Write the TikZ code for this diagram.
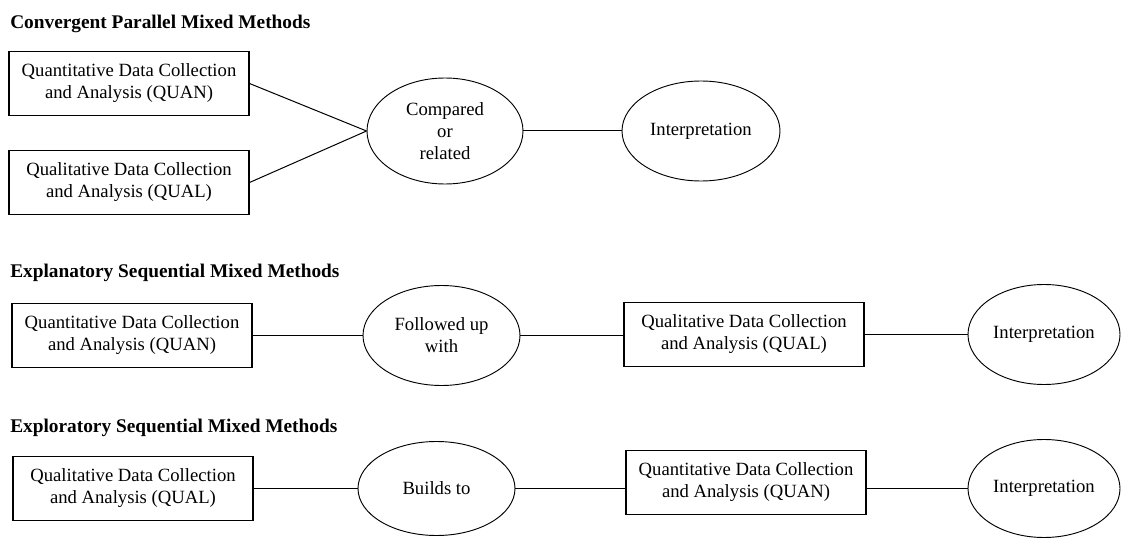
\documentclass[tikz,border=0pt]{standalone}
\usepackage{fontspec}
\setmainfont{Liberation Serif}
\usetikzlibrary{shapes.geometric}

\begin{document}
\begin{tikzpicture}[x=0.75pt,y=-0.75pt,
	every node/.style={font=\fontsize{14}{16.5}\selectfont},
	databox/.style={draw,line width=0.8pt,minimum width=180pt,minimum height=48pt,inner sep=0pt,align=center},
	linkoval/.style={draw,ellipse,line width=0.7pt,inner sep=0pt,align=center},
	heading/.style={anchor=base west,inner sep=0pt,font=\fontsize{14.5}{16.5}\selectfont\bfseries},
	conn/.style={line width=0.75pt}]
	\useasboundingbox (0,0) rectangle (1122,542);
	% convergent
	\node[heading] (titleA) at (10,29) {Convergent Parallel Mixed Methods};
	\node[databox] (quanA) at (129,83.5) {Quantitative Data Collection\\and Analysis (QUAN)};
	\node[databox] (qualA) at (129,182.5) {Qualitative Data Collection\\and Analysis (QUAL)};
	\node[linkoval,minimum width=117pt,minimum height=79.5pt] (comp) at (445,131) {Compared\\or\\related};
	\node[linkoval,minimum width=118.5pt,minimum height=75pt] (interpA) at (701,131) {Interpretation};
	\draw[conn] (quanA.east) -- (comp.west);
	\draw[conn] (qualA.east) -- (comp.west);
	\draw[conn] (comp.east) -- (interpA.west);
	% explanatory
	\node[heading] (titleB) at (10,277) {Explanatory Sequential Mixed Methods};
	\node[databox] (quanB) at (132,335.5) {Quantitative Data Collection\\and Analysis (QUAN)};
	\node[linkoval,minimum width=117.75pt,minimum height=75pt] (follow) at (441.5,335.5) {Followed up\\with};
	\node[databox] (qualB) at (744,334.5) {Qualitative Data Collection\\and Analysis (QUAL)};
	\node[linkoval,minimum width=114pt,minimum height=75pt] (interpB) at (1044,334.5) {Interpretation};
	\draw[conn] (quanB.east) -- (follow.west);
	\draw[conn] (follow.east) -- (follow.east -| qualB.west);
	\draw[conn] (qualB.east) -- (interpB.west);
	% exploratory
	\node[heading] (titleC) at (10,432) {Exploratory Sequential Mixed Methods};
	\node[databox] (qualC) at (133,488.5) {Qualitative Data Collection\\and Analysis (QUAL)};
	\node[linkoval,minimum width=117.75pt,minimum height=70.5pt] (builds) at (436.5,488.5) {Builds to};
	\node[databox] (quanC) at (746,482.5) {Quantitative Data Collection\\and Analysis (QUAN)};
	\node[linkoval,minimum width=114pt,minimum height=73.5pt] (interpC) at (1044,488.5) {Interpretation};
	\draw[conn] (qualC.east) -- (builds.west);
	\draw[conn] (builds.east) -- (builds.east -| quanC.west);
	\draw[conn] (quanC.east |- interpC.west) -- (interpC.west);
\end{tikzpicture}
\end{document}
